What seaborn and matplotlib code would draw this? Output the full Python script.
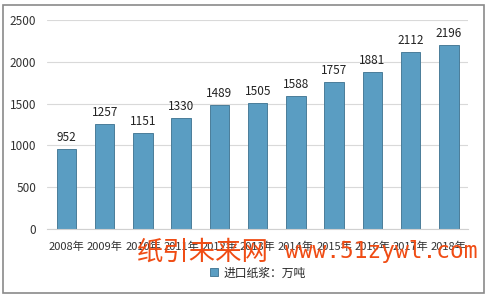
import matplotlib
matplotlib.use("Agg")
import matplotlib.pyplot as plt
import seaborn as sns
import pandas as pd
from matplotlib.patches import Rectangle

years = ["2008年", "2009年", "2010年", "2011年", "2012年", "2013年",
         "2014年", "2015年", "2016年", "2017年", "2018年"]
values = [952, 1257, 1151, 1330, 1489, 1505, 1588, 1757, 1881, 2112, 2196]
series_name = "进口纸浆：万吨"
yticks = [0, 500, 1000, 1500, 2000, 2500]

sns.set_theme(style="white")
plt.rcParams['font.family'] = ['Noto Sans CJK SC', 'DejaVu Sans']

df = pd.DataFrame({"year": years, "value": values, "series": series_name})

fig = plt.figure(figsize=(4.88, 2.98), dpi=100)
ax = fig.add_axes([0.0971, 0.2315, 0.862, 0.7014])

sns.barplot(data=df, x="year", y="value", hue="series", palette=["#5a9dc2"],
            width=0.51, edgecolor="#4a7d99", linewidth=0.7, ax=ax, legend=True,
            saturation=1)

for i, v in enumerate(values):
    ax.text(i, v + 60, str(v), ha="center", va="bottom", fontsize=8.5, color="#222222")

ax.set_ylim(0, 2500)
ax.set_xlim(-0.5, 10.5)
ax.set_yticks(yticks)
ax.set_yticklabels([str(t) for t in yticks], fontsize=8.5, color="#333333")
ax.tick_params(axis="x", labelsize=8, colors="#333333", pad=9, length=0)
ax.tick_params(axis="y", length=0, pad=8)
ax.set_xlabel("")
ax.set_ylabel("")
ax.yaxis.grid(True, color="#d9d9d9", linewidth=0.8)
ax.set_axisbelow(True)
for s in ["top", "right", "left"]:
    ax.spines[s].set_visible(False)
ax.spines["bottom"].set_color("#d0d0d0")
ax.spines["bottom"].set_linewidth(0.8)

leg = ax.legend(loc="center", bbox_to_anchor=(0.5, -0.21), frameon=False,
                fontsize=8.5, handlelength=0.7, handleheight=0.7, handletextpad=0.4)

# watermark
fig.text(0.281, 0.155, "纸引未来网", fontsize=19, color="#f04c14", ha="left", va="center",
         family=['Noto Sans CJK SC'])
fig.text(0.584, 0.155, "www.51zywl.com", fontsize=16.5, color="#f04c14", ha="left", va="center",
         family=['DejaVu Sans Mono'])

fig.patches.append(Rectangle((3 / 488, 5 / 298), 481 / 488, 288 / 298, transform=fig.transFigure,
                             fill=False, edgecolor="#8a8a8a", linewidth=1.2))

fig.savefig("out.png", dpi=100)
